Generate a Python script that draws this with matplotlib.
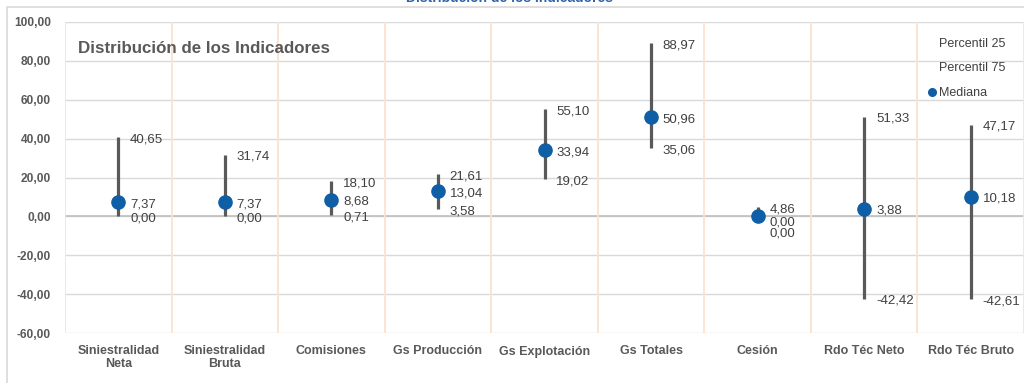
import matplotlib
matplotlib.use("Agg")
import matplotlib.pyplot as plt
from matplotlib.lines import Line2D
from matplotlib.patches import Rectangle
from matplotlib.ticker import FuncFormatter

plt.rcParams['font.family'] = ['Liberation Sans', 'DejaVu Sans']

# data
categorias = ["Siniestralidad\nNeta", "Siniestralidad\nBruta", "Comisiones", "Gs Producción",
              "Gs Explotación", "Gs Totales", "Cesión", "Rdo Téc Neto", "Rdo Téc Bruto"]
percentil_75 = [40.65, 31.74, 18.10, 21.61, 55.10, 88.97, 4.86, 51.33, 47.17]
mediana = [7.37, 7.37, 8.68, 13.04, 33.94, 50.96, 0.00, 3.88, 10.18]
percentil_25 = [0.00, 0.00, 0.71, 3.58, 19.02, 35.06, 0.00, -42.42, -42.61]

azul = "#0F5FA6"
gris_linea = "#595959"
gris_texto = "#404040"
gris_eje = "#595959"

def fmt(v):
    return f"{v:.2f}".replace(".", ",")

fig = plt.figure(figsize=(10.24, 3.83), dpi=100)
ax = fig.add_axes([65/1024, 50/383, 959/1024, 311/383])

# outer chart border
fig.patches.append(Rectangle((7/1024, -0.1), 1.2, (383-7)/383 + 0.1, transform=fig.transFigure,
                             fill=False, edgecolor="#D9D9D9", lw=1.2, zorder=0))
fig.text(510/1024, (383-2)/383, "Distribución de los Indicadores", ha="center", va="baseline",
         fontsize=10, fontweight="bold", color="#2F64A8")

ax.set_xlim(0, len(categorias))
ax.set_ylim(-60, 100)
for s in ax.spines.values():
    s.set_visible(False)

ax.set_yticks(range(-60, 101, 20))
ax.yaxis.set_major_formatter(FuncFormatter(lambda v, p: fmt(v)))
for y in range(-60, 101, 20):
    ax.axhline(y, color="#D9D9D9", lw=1, zorder=1)
ax.axhline(0, color="#BFBFBF", lw=1.2, zorder=1)
for x in range(len(categorias) + 1):
    ax.axvline(x, color="#FBE2CF", lw=1.3, zorder=1)

xs = [i + 0.5 for i in range(len(categorias))]
ax.set_xticks(xs)
ax.set_xticklabels(categorias, linespacing=1.05)
ax.tick_params(axis="x", length=0, colors=gris_eje, labelsize=9, pad=9)
ax.tick_params(axis="y", length=0, colors=gris_eje, labelsize=8.6, pad=10)
for lab in ax.get_xticklabels() + ax.get_yticklabels():
    lab.set_fontweight("bold")

ax.vlines(xs, percentil_25, percentil_75, color=gris_linea, lw=2.3, zorder=3)
ax.plot(xs, mediana, "o", color=azul, markersize=9.5, zorder=4, linestyle="none")

# extra downward nudge (points) for crowded labels
nudge = {(6, "med"): 3.0, (6, "p25"): 10.5}
for i, x in enumerate(xs):
    for key, val in (("p75", percentil_75[i]), ("med", mediana[i]), ("p25", percentil_25[i])):
        dy = -1.5 - nudge.get((i, key), 0.0)
        ax.annotate(fmt(val), (x, val), xytext=(8.5, dy), textcoords="offset points",
                    ha="left", va="center", fontsize=9.5, color=gris_texto, zorder=5)

ax.text(13/959, 0.915, "Distribución de los Indicadores", transform=ax.transAxes,
        ha="left", va="center", fontsize=12.2, fontweight="bold", color=gris_eje)

handles = [Line2D([], [], linestyle="none"),
           Line2D([], [], linestyle="none"),
           Line2D([], [], marker="o", color=azul, linestyle="none", markersize=5.5)]
leg = ax.legend(handles, ["Percentil 25", "Percentil 75", "Mediana"], loc="upper left",
                bbox_to_anchor=(923/959 - 65/959, 0.965), frameon=False, fontsize=9,
                handlelength=0.6, handletextpad=0.3, labelspacing=1.0, borderaxespad=0)
for t in leg.get_texts():
    t.set_color(gris_texto)

fig.savefig("out.png", dpi=100)
